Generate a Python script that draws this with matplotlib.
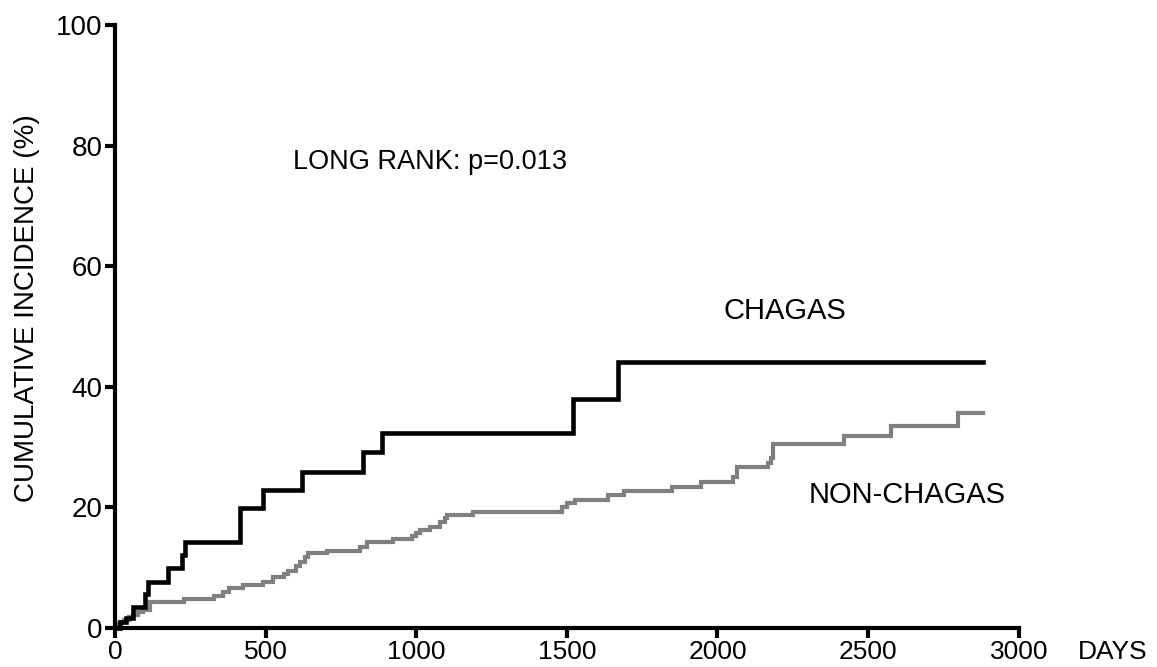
import matplotlib
matplotlib.use("Agg")
import matplotlib.pyplot as plt

plt.rcParams['font.family'] = ['Liberation Sans', 'DejaVu Sans']

# Chagas group (days, cumulative incidence %)
chagas_days = [0, 15, 35, 60, 100, 110, 176, 222, 232, 415, 492, 621, 824, 886, 1522, 1671, 2880]
chagas_inc = [0, 1.0, 1.7, 3.5, 5.6, 7.6, 9.9, 12.1, 14.3, 19.9, 22.9, 25.9, 29.2, 32.3, 38.0, 44.1, 44.1]

# Non-Chagas group
non_days = [0, 10, 17, 30, 45, 60, 75, 93, 116, 230, 330, 360, 380, 425, 492, 525, 560, 575,
            600, 615, 630, 642, 704, 814, 837, 924, 986, 1000, 1013, 1047, 1080, 1095, 1103,
            1189, 1485, 1500, 1528, 1638, 1688, 1850, 1944, 2053, 2066, 2166, 2176, 2183,
            2419, 2575, 2797, 2880]
non_inc = [0, 0.6, 1.0, 1.4, 1.8, 2.2, 2.6, 3.0, 4.3, 4.8, 5.3, 6.0, 6.6, 7.1, 7.6, 8.5, 9.0, 9.5,
           10.3, 11.0, 11.8, 12.5, 12.8, 13.4, 14.3, 14.7, 15.2, 15.7, 16.3, 16.8, 17.6, 18.2, 18.8,
           19.2, 20.0, 20.7, 21.2, 22.0, 22.7, 23.4, 24.2, 25.0, 26.7, 27.3, 28.2, 30.5,
           31.9, 33.5, 35.6, 35.6]

xticks = [0, 500, 1000, 1500, 2000, 2500, 3000]
yticks = [0, 20, 40, 60, 80, 100]

fig = plt.figure(figsize=(11.57, 6.67), dpi=100)
ax = fig.add_axes([0.0994, 0.0585, 0.7811, 0.904])

ax.step(non_days, non_inc, where='post', color='#808080', lw=3.0, clip_on=False,
        solid_joinstyle='miter', zorder=2)
ax.step(chagas_days, chagas_inc, where='post', color='black', lw=3.3, clip_on=False,
        solid_joinstyle='miter', zorder=3)

ax.set_xlim(0, 3000)
ax.set_ylim(0, 100)
ax.set_xticks(xticks)
ax.set_yticks(yticks)
ax.tick_params(axis='both', width=3, length=7, pad=2)
ax.tick_params(axis='y', labelsize=20)
ax.tick_params(axis='x', labelsize=19)
for s in ['top', 'right']:
    ax.spines[s].set_visible(False)
for s in ['left', 'bottom']:
    ax.spines[s].set_linewidth(3)

ax.set_ylabel('CUMULATIVE INCIDENCE (%)', fontsize=20)
ax.yaxis.set_label_coords(-0.083, 0.53)

ax.text(591, 77.3, 'LONG RANK: p=0.013', fontsize=19.5, va='center', ha='left')
ax.text(2020, 52.6, 'CHAGAS', fontsize=21, va='center', ha='left')
ax.text(2302, 22.0, 'NON-CHAGAS', fontsize=21, va='center', ha='left')
fig.text(0.932, 0.0225, 'DAYS', fontsize=19, va='center', ha='left')

fig.savefig('out.png', dpi=100)
